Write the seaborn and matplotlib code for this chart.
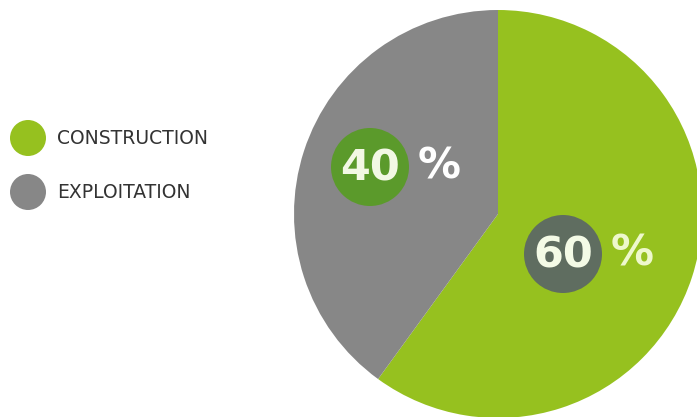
import matplotlib
matplotlib.use("Agg")
import matplotlib.pyplot as plt
from matplotlib.patches import Circle
import seaborn as sns

# data
categories = ["CONSTRUCTION", "EXPLOITATION"]
shares = [60, 40]
colors = ["#96c11f", "#878787"]
badge_colors = ["#5f6d60", "#5b9a2b"]

sns.set_theme(style="white")
plt.rcParams['font.family'] = ['DejaVu Sans']

W, H = 697, 417
fig = plt.figure(figsize=(W / 100, H / 100), dpi=100)
ax = fig.add_axes([0, 0, 1, 1])

# pie: centre/radius in pixel coordinates (y up)
cx, cy, r = 498, 203, 204
wedges, _ = ax.pie(shares, colors=colors, startangle=90, counterclock=False,
                   center=(cx, cy), radius=r, frame=True,
                   wedgeprops=dict(linewidth=0))
ax.set_xlim(0, W)
ax.set_ylim(0, H)
ax.set_aspect("equal")
ax.axis("off")

# badges with value labels
badges = [(563, 163, "#f4fbe6"), (370, 250, "#f2f8e4")]
pct_colors = ["#eef8cc", "#ffffff"]
for (bx, by, tc), val, bc, pc in zip(badges, shares, badge_colors, pct_colors):
    ax.add_patch(Circle((bx, by), 39, color=bc, zorder=3, linewidth=0))
    ax.text(bx, by - 1, f"{val}", ha="center", va="center", fontsize=31,
            fontweight="bold", color=tc, zorder=4)
    ax.text(bx + 69, by + 1, "%", ha="center", va="center", fontsize=31,
            fontweight="bold", color=pc, zorder=4)

# legend
for i, (cat, col) in enumerate(zip(categories, colors)):
    y = 279 - i * 54
    ax.add_patch(Circle((28, y), 18, color=col, linewidth=0))
    ax.text(57, y, cat, ha="left", va="center", fontsize=13.5,
            color="#333333")

fig.savefig("out.png", dpi=100)
